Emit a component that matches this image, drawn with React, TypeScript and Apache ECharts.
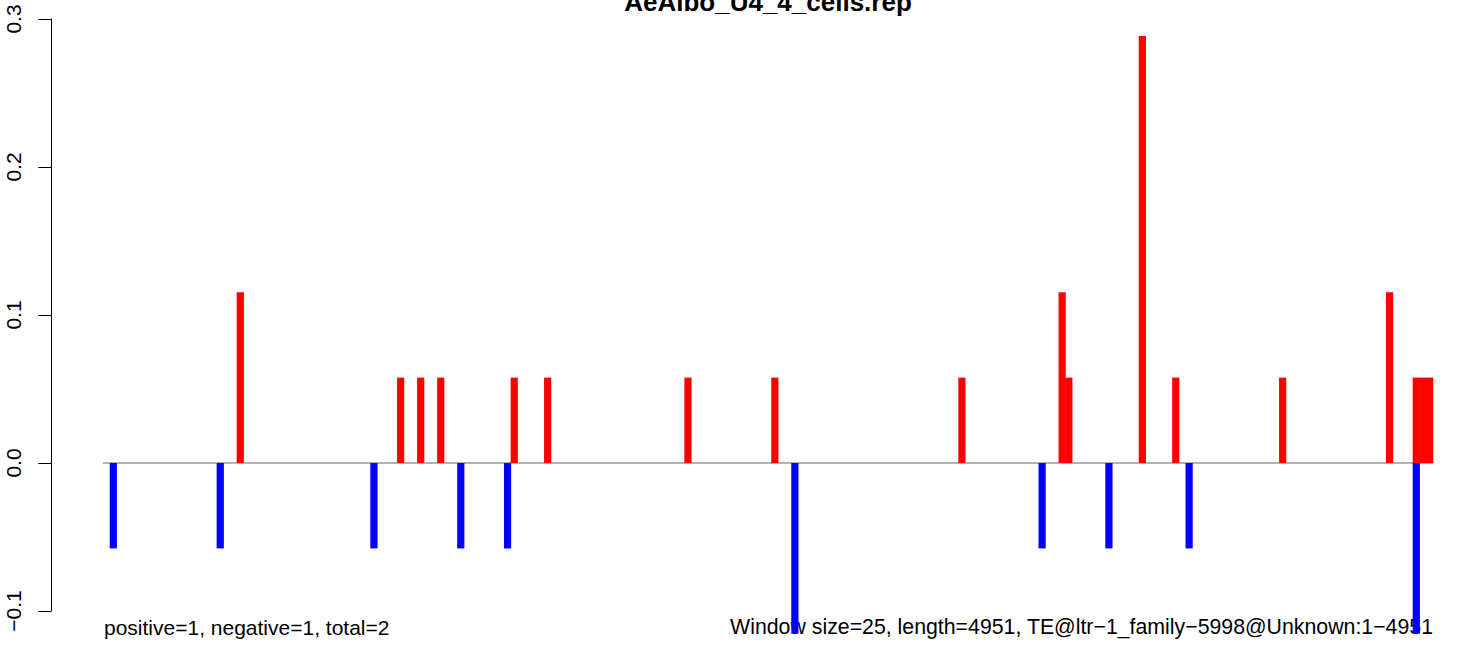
import React, { useEffect, useRef } from "react";
import * as echarts from "echarts";

const TITLE = "AeAlbo_U4_4_cells.rep";
const LEFT_NOTE = "positive=1, negative=1, total=2";
const RIGHT_NOTE = "Window size=25, length=4951, TE@ltr\u22121_family\u22125998@Unknown:1\u22124951";

const WINDOW_COUNT = 199;

const positiveWindows = [20, 44, 47, 50, 61, 66, 87, 100, 128, 143, 144, 155, 160, 176, 192, 196, 197, 198];
const positiveValues = [0.1154, 0.0577, 0.0577, 0.0577, 0.0577, 0.0577, 0.0577, 0.0577, 0.0577, 0.1154, 0.0577, 0.2885, 0.0577, 0.0577, 0.1154, 0.0577, 0.0577, 0.0577];

const negativeWindows = [1, 17, 40, 53, 60, 103, 140, 150, 162, 196];
const negativeValues = [-0.0577, -0.0577, -0.0577, -0.0577, -0.0577, -0.1154, -0.0577, -0.0577, -0.0577, -0.1154];

const yTicks = { min: -0.1, max: 0.3, interval: 0.1 };

function buildSeries(idx: number[], vals: number[]): (number | string)[] {
  const out: (number | string)[] = [];
  for (let i = 0; i < WINDOW_COUNT; i++) out.push("-");
  idx.forEach((w, k) => {
    out[w] = vals[k];
  });
  return out;
}

export default function App() {
  const ref = useRef<HTMLDivElement>(null);
  useEffect(() => {
    if (!ref.current) return;
    const chart = echarts.init(ref.current, undefined, { renderer: "svg" });
    const categories: string[] = [];
    for (let i = 0; i < WINDOW_COUNT; i++) categories.push(String(i));
    const font = "'Liberation Sans', Arial, Helvetica, sans-serif";
    chart.setOption({
      animation: false,
      backgroundColor: "#ffffff",
      grid: { left: 103.3, right: 27, top: 19, bottom: 35, containLabel: false },
      xAxis: {
        type: "category",
        data: categories,
        boundaryGap: true,
        axisLine: { show: true, onZero: true, lineStyle: { color: "#999999", width: 1.5 } },
        axisTick: { show: false },
        axisLabel: { show: false },
        splitLine: { show: false },
      },
      yAxis: {
        type: "value",
        min: yTicks.min,
        max: yTicks.max,
        interval: yTicks.interval,
        offset: 52,
        axisLine: { show: true, lineStyle: { color: "#000000", width: 1 } },
        axisTick: { show: true, length: 13, lineStyle: { color: "#000000", width: 1 } },
        splitLine: { show: false },
        axisLabel: {
          rotate: 90,
          margin: 27,
          align: "center",
          verticalAlign: "bottom",
          fontFamily: font,
          fontSize: 21,
          color: "#000000",
          formatter: (v: number) => v.toFixed(1).replace("-", "\u2212"),
        },
      },
      series: [
        {
          name: "positive",
          type: "bar",
          clip: false,
          data: buildSeries(positiveWindows, positiveValues),
          barWidth: 7.2,
          barGap: "-100%",
          itemStyle: { color: "#ff0000" },
        },
        {
          name: "negative",
          type: "bar",
          clip: false,
          data: buildSeries(negativeWindows, negativeValues),
          barWidth: 7.2,
          barGap: "-100%",
          itemStyle: { color: "#0000ff" },
        },
      ],
      graphic: [
        {
          type: "text",
          x: 768,
          y: 2,
          style: {
            text: TITLE,
            fontFamily: font,
            fontSize: 26,
            fontWeight: "bold",
            fill: "#000000",
            align: "center",
            verticalAlign: "middle",
          },
        },
        {
          type: "text",
          x: 104,
          y: 627,
          style: {
            text: LEFT_NOTE,
            fontFamily: font,
            fontSize: 21,
            fill: "#000000",
            align: "left",
            verticalAlign: "middle",
          },
        },
        {
          type: "text",
          x: 1433,
          y: 627,
          style: {
            text: RIGHT_NOTE,
            fontFamily: font,
            fontSize: 21.3,
            fill: "#000000",
            align: "right",
            verticalAlign: "middle",
          },
        },
      ],
    });
    return () => chart.dispose();
  }, []);
  return (
    <div
      ref={ref}
      style={{ position: "absolute", left: 0, top: 0, width: 1460, height: 646 }}
    />
  );
}
